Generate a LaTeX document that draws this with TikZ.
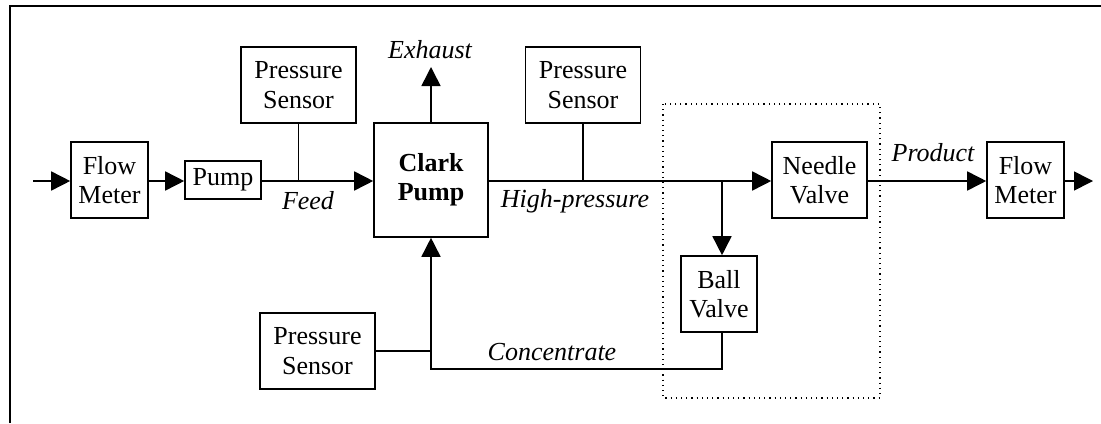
\documentclass[tikz,border=0pt]{standalone}
\usepackage{fontspec}
\setmainfont{Liberation Serif}
\usetikzlibrary{arrows.meta}
\tikzset{
  every picture/.style={line join=miter, >={Triangle[length=9.5pt,width=9.5pt]}},
  blk/.style={draw, line width=0.8pt, inner sep=0pt, align=center, font=\fontsize{13}{14.7}\selectfont},
  flowline/.style={line width=0.8pt},
  lbl/.style={font=\fontsize{13}{14.7}\selectfont\itshape, inner sep=0pt},
}

\begin{document}
\begin{tikzpicture}[x=0.5pt,y=-0.5pt]
\useasboundingbox (0,0) rectangle (1101,423);
% frame (top and left only)
\draw[line width=1pt] (10,423) -- (10,6) -- (1101,6);
% blocks
\node[blk, minimum width=38.5pt, minimum height=38pt] (fmin) at (109.5,180) {Flow\\Meter};
\node[blk, minimum width=38pt, minimum height=19pt] (pump) at (223,180) {Pump};
\node[blk, minimum width=57.5pt, minimum height=38pt] (psfeed) at (298.5,85) {Pressure\\Sensor};
\node[blk, minimum width=57pt, minimum height=57pt, font=\fontsize{13}{14.7}\selectfont\bfseries] (clark) at (431,180) {Clark\\Pump};
\node[blk, minimum width=57.5pt, minimum height=38pt] (pshigh) at (583,85) {Pressure\\Sensor};
\node[blk, minimum width=47.5pt, minimum height=38pt] (needle) at (819.5,180) {Needle\\Valve};
\node[blk, minimum width=38pt, minimum height=38pt] (ball) at (719,294) {Ball\\Valve};
\node[blk, minimum width=38.5pt, minimum height=38pt] (fmout) at (1025.5,180) {Flow\\Meter};
\node[blk, minimum width=57.5pt, minimum height=38pt] (pscon) at (317.5,351) {Pressure\\Sensor};
% free ends
\coordinate (inlet) at (33,181);
\coordinate (outlet) at (1093,181);
\coordinate (exh) at (431,67);
\coordinate (junc) at (722,181);
\coordinate (corner) at (722,369);
\coordinate (back) at (431,369);
% labels
\node[lbl] (exhlbl) at (430,50) {Exhaust};
\node[lbl] (feedlbl) at (308,201) {Feed};
\node[lbl] (hplbl) at (575,201) {High-pressure};
\node[lbl] (prodlbl) at (933,153) {Product};
\node[lbl] (conlbl) at (552,352) {Concentrate};
% main line
\draw[flowline,->] (inlet) -- (inlet -| fmin.west);
\draw[flowline,->] (fmin.east |- inlet) -- (inlet -| pump.west);
\draw[flowline,->] (pump.east |- inlet) -- (inlet -| clark.west);
\draw[flowline] (psfeed.south) -- (psfeed.south |- inlet);
\draw[flowline,->] (clark.east |- inlet) -- (inlet -| needle.west);
\draw[flowline] (pshigh.south) -- (pshigh.south |- inlet);
\draw[flowline,->] (needle.east |- inlet) -- (inlet -| fmout.west);
\draw[flowline,->] (fmout.east |- inlet) -- (outlet);
\draw[flowline,->] (clark.north) -- (exh);
% ball valve branch
\draw[flowline,->] (junc) -- (junc |- ball.north);
\draw[flowline,->] (junc |- ball.south) -- (corner) -- (back) -- (clark.south);
\draw[flowline] (pscon.east) -- (pscon.east -| back);
% dotted group
\draw[dotted, line width=0.6pt] (663,104) rectangle (880,398);
\end{tikzpicture}
\end{document}
